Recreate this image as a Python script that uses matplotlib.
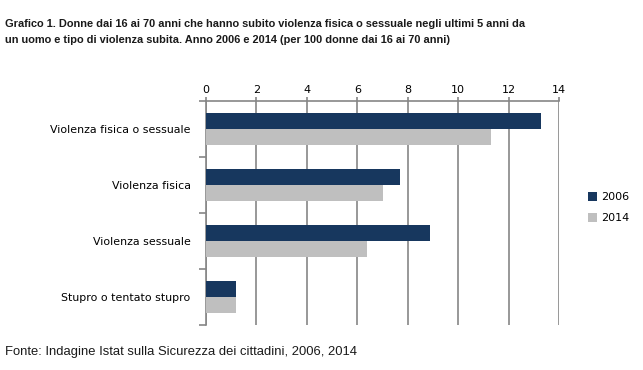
import matplotlib
matplotlib.use("Agg")
import matplotlib.pyplot as plt
import numpy as np

categories = ["Violenza fisica o sessuale", "Violenza fisica", "Violenza sessuale", "Stupro o tentato stupro"]
series_names = ["2006", "2014"]
values_2006 = [13.3, 7.7, 8.9, 1.2]
values_2014 = [11.3, 7.0, 6.4, 1.2]
xticks = [0, 2, 4, 6, 8, 10, 12, 14]

c2006 = "#17375E"
c2014 = "#BFBFBF"
grid_c = "#868686"

fig = plt.figure(figsize=(6.43, 3.70), dpi=100)
ax = fig.add_axes([206/643, 1-325/370, 353/643, 224/370])

n = len(categories)
y = np.arange(n)
h = 0.286
ax.barh(y - h/2, values_2006, height=h, color=c2006, label=series_names[0], zorder=3)
ax.barh(y + h/2, values_2014, height=h, color=c2014, label=series_names[1], zorder=3)
ax.set_ylim(n - 0.5, -0.5)
ax.set_xlim(0, 14)
ax.set_xticks(xticks)
ax.set_xticklabels([str(t) for t in xticks])
ax.xaxis.tick_top()
ax.tick_params(axis="x", length=3, color=grid_c, width=1.2, labelsize=8, pad=1.5)
ax.set_yticks(np.arange(n + 1) - 0.5, minor=True)
ax.set_yticks(y)
ax.set_yticklabels(categories, fontsize=7.9)
ax.tick_params(axis="y", which="major", length=0, pad=11)
ax.tick_params(axis="y", which="minor", length=5, color=grid_c, width=1.2)
for lab in ax.get_xticklabels() + ax.get_yticklabels():
    lab.set_family("DejaVu Sans")
ax.grid(axis="x", color=grid_c, linewidth=1.2, zorder=0)
for s in ["right", "bottom"]:
    ax.spines[s].set_visible(False)
for s in ["top", "left"]:
    ax.spines[s].set_color(grid_c)
    ax.spines[s].set_linewidth(1.2)

leg = fig.legend(loc="upper left", bbox_to_anchor=(578/643, 1-182/370), frameon=False,
                 handlelength=0.8, handleheight=0.8, handletextpad=0.4,
                 labelspacing=1.0, prop={"family": "DejaVu Sans", "size": 8})

title_font = ["Liberation Sans Narrow", "Liberation Sans", "DejaVu Sans"]
fig.text(5/643, 1-19/370,
         "Grafico 1. Donne dai 16 ai 70 anni che hanno subito violenza fisica o sessuale negli ultimi 5 anni da\n"
         "un uomo e tipo di violenza subita. Anno 2006 e 2014 (per 100 donne dai 16 ai 70 anni)",
         ha="left", va="top", fontsize=7.9, fontweight="bold", family=title_font,
         linespacing=1.7, color="#1a1a1a")
fig.text(5/643, 1-352/370, "Fonte: Indagine Istat sulla Sicurezza dei cittadini, 2006, 2014",
         ha="left", va="center", fontsize=9.4, family=["Liberation Sans", "DejaVu Sans"], color="#1a1a1a")

fig.savefig("out.png", dpi=100, facecolor="white")
